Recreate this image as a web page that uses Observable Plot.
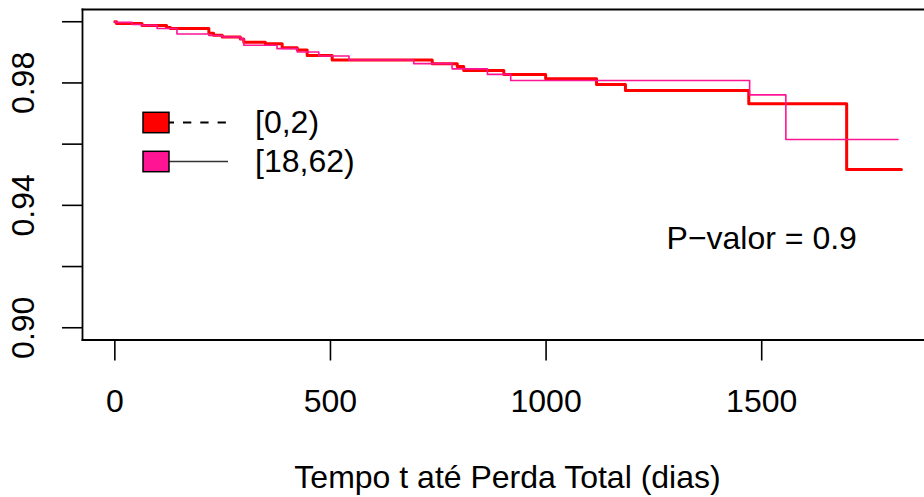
<!DOCTYPE html>
<html><head><meta charset="utf-8">
<script src="https://cdn.jsdelivr.net/npm/d3@7"></script>
<script src="https://cdn.jsdelivr.net/npm/@observablehq/plot@0.6"></script>
<style>
html,body{margin:0;padding:0;background:#fff;overflow:hidden;}
#chart svg{overflow:hidden;display:block;}
</style></head><body><div id="chart"></div>
<script>
// ---- data ----
const groups = ["[0,2)", "[18,62)"];
const groupColors = ["#FF0000", "#FF1493"];
const redTimes = [0, 4, 63, 120, 129, 218, 229, 249, 291, 299, 349, 388, 423, 446, 504, 736, 794, 809, 902, 999, 1117, 1184, 1470, 1697, 1824];
const redSurv  = [1, 0.9994, 0.9988, 0.9981, 0.9978, 0.9962, 0.9956, 0.995, 0.9944, 0.9933, 0.9928, 0.9915, 0.9908, 0.989, 0.9875, 0.9863, 0.9854, 0.9841, 0.9828, 0.9814, 0.9795, 0.9775, 0.9732, 0.9517, 0.9517];
const pinkTimes = [0, 2, 40, 63, 98, 144, 218, 249, 291, 299, 376, 423, 473, 543, 693, 782, 864, 918, 1472, 1556, 1816];
const pinkSurv  = [1, 0.9998, 0.9991, 0.9988, 0.9978, 0.996, 0.9955, 0.995, 0.9944, 0.9923, 0.9912, 0.9901, 0.9888, 0.9875, 0.9863, 0.9846, 0.9828, 0.9808, 0.9761, 0.9615, 0.9615];
const xTicks = [0, 500, 1000, 1500];
const yTicks = [0.90, 0.92, 0.94, 0.96, 0.98, 1.00];
const yLabelTicks = [0.90, 0.94, 0.98];
const xTitle = "Tempo t até Perda Total (dias)";
const pText = "P\u2212valor = 0.9";
const pTextX = 1500;
const pTextY = 0.93;

const redData = redTimes.map((t, i) => ({t, s: redSurv[i]}));
const pinkData = pinkTimes.map((t, i) => ({t, s: pinkSurv[i]}));

const W = 924, H = 497;
const chart = Plot.plot({
  width: W, height: H,
  marginLeft: 82, marginRight: 0, marginTop: 9, marginBottom: 157.5,
  style: {fontSize: "32px", fontFamily: "'Liberation Sans', Arial, Helvetica, sans-serif", background: "white", color: "black"},
  x: {domain: [-75, 1903], range: [82, 935]},
  y: {domain: [0.896, 1.004]},
  marks: [
    Plot.frame({anchor: "left", strokeWidth: 1.8}),
    Plot.frame({anchor: "top", strokeWidth: 1.8}),
    Plot.frame({anchor: "bottom", strokeWidth: 1.8}),
    Plot.axisY({ticks: yTicks, tickSize: 20, tickFormat: () => "", label: null, strokeWidth: 1.6}),
    Plot.text(yLabelTicks, {y: d => d, text: d => d.toFixed(2), frameAnchor: "left", dx: -59, rotate: -90, textAnchor: "middle", lineAnchor: "middle", fill: "black"}),
    Plot.axisX({ticks: xTicks, tickSize: 21, tickPadding: 28.5, tickFormat: d3.format("d"), label: null, strokeWidth: 1.6}),
    Plot.text([xTitle], {text: d => d, frameAnchor: "bottom", dy: 138, dx: 4, lineAnchor: "middle", fill: "black"}),
    Plot.line(redData, {x: "t", y: "s", curve: "step-after", stroke: groupColors[0], strokeWidth: 3}),
    Plot.line(pinkData, {x: "t", y: "s", curve: "step-after", stroke: groupColors[1], strokeWidth: 1.6}),
    Plot.text([{x: pTextX, y: pTextY, label: pText}], {x: "x", y: "y", text: "label", lineAnchor: "middle", dy: 2.6, fill: "black"})
  ]
});
document.getElementById("chart").appendChild(chart);

// legend drawn inside the plot area (as R's legend())
const svg = d3.select(chart);
const lg = svg.append("g").attr("font-family", "'Liberation Sans', Arial, Helvetica, sans-serif").attr("font-size", 32).attr("text-anchor", "start");
groups.forEach((g, i) => {
  const yc = 122.5 + 39 * i;
  lg.append("line").attr("x1", 169).attr("x2", 228).attr("y1", yc).attr("y2", yc)
    .attr("stroke", i === 0 ? "black" : "#333").attr("stroke-width", i === 0 ? 2 : 1.3)
    .attr("stroke-dasharray", i === 0 ? "8.3 9" : null).attr("stroke-dashoffset", i === 0 ? 3.3 : null);
  lg.append("rect").attr("x", 143).attr("y", yc - 10.2).attr("width", 26).attr("height", 20.4)
    .attr("fill", groupColors[i]).attr("stroke", "black").attr("stroke-width", 1.5);
  lg.append("text").attr("x", 255).attr("y", yc).attr("dy", "0.32em").attr("text-anchor", "start").attr("fill", "black").text(g);
});
</script></body></html>
